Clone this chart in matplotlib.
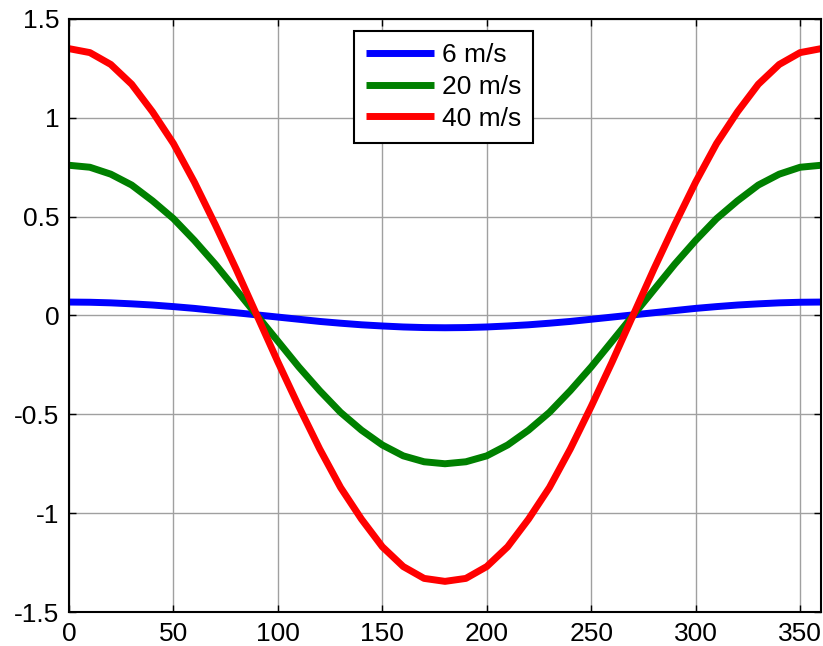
import matplotlib
matplotlib.use("Agg")
import matplotlib.pyplot as plt

plt.rcParams['font.family'] = ['Liberation Sans', 'DejaVu Sans']

# angle (deg) and read-off values for each wind speed
angle = [0, 10, 20, 30, 40, 50, 60, 70, 80, 90, 100, 110, 120, 130, 140, 150, 160, 170, 180,
         190, 200, 210, 220, 230, 240, 250, 260, 270, 280, 290, 300, 310, 320, 330, 340, 350, 360]

v6 = [0.068, 0.067, 0.064, 0.059, 0.053, 0.045, 0.036, 0.025, 0.014, 0.003,
      -0.008, -0.019, -0.030, -0.039, -0.047, -0.053, -0.058, -0.061, -0.062,
      -0.061, -0.058, -0.053, -0.047, -0.039, -0.030, -0.019, -0.008, 0.003,
      0.014, 0.025, 0.036, 0.045, 0.053, 0.059, 0.064, 0.067, 0.068]

v20 = [0.76, 0.75, 0.715, 0.66, 0.58, 0.49, 0.38, 0.26, 0.13, 0.0,
       -0.13, -0.26, -0.38, -0.49, -0.58, -0.655, -0.71, -0.74, -0.75,
       -0.74, -0.71, -0.655, -0.58, -0.49, -0.38, -0.26, -0.13, 0.0,
       0.13, 0.26, 0.38, 0.49, 0.58, 0.66, 0.715, 0.75, 0.76]

v40 = [1.35, 1.33, 1.27, 1.17, 1.03, 0.87, 0.675, 0.46, 0.235, 0.0,
       -0.235, -0.46, -0.675, -0.87, -1.03, -1.17, -1.27, -1.33, -1.345,
       -1.33, -1.27, -1.17, -1.03, -0.87, -0.675, -0.46, -0.235, 0.0,
       0.235, 0.46, 0.675, 0.87, 1.03, 1.17, 1.27, 1.33, 1.35]

labels = ['6 m/s', '20 m/s', '40 m/s']
colors = ['#0000ff', '#008000', '#ff0000']

fig = plt.figure(figsize=(8.23, 6.46), dpi=100)
ax = fig.add_axes([69 / 823, 34 / 646, 752 / 823, 593 / 646])

for y, lab, c in zip([v6, v20, v40], labels, colors):
    ax.plot(angle, y, color=c, lw=5, label=lab, solid_capstyle='butt')

ax.set_xlim(0, 360)
ax.set_ylim(-1.5, 1.5)
ax.set_xticks([0, 50, 100, 150, 200, 250, 300, 350])
ax.set_yticks([-1.5, -1, -0.5, 0, 0.5, 1, 1.5])
ax.set_yticklabels(['-1.5', '-1', '-0.5', '0', '0.5', '1', '1.5'])
ax.grid(True, color='#a0a0a0', lw=1, ls='-')
ax.tick_params(direction='in', top=True, right=True, length=5, width=1,
               labelsize=19, pad=7)
for s in ax.spines.values():
    s.set_linewidth(1.5)

leg = ax.legend(loc='upper left', bbox_to_anchor=(354 / 823, 1 - 31 / 646),
                bbox_transform=fig.transFigure, borderaxespad=0, fontsize=19,
                fancybox=False, framealpha=1, edgecolor='black',
                handlelength=2.6, handletextpad=0.27, labelspacing=0.3,
                borderpad=0.45)
leg.get_frame().set_linewidth(1.5)

fig.savefig("out.png", dpi=100)
